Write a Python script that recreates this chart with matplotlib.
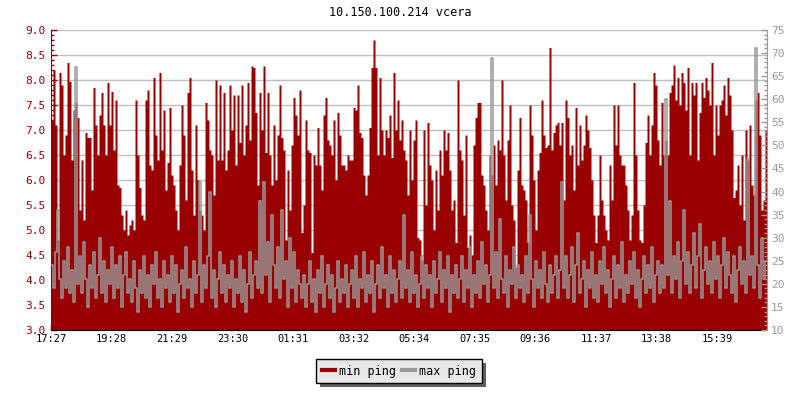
import numpy as np
import matplotlib
matplotlib.use("Agg")
import matplotlib.pyplot as plt
from matplotlib.ticker import MultipleLocator, FixedLocator, FormatStrFormatter
from matplotlib.lines import Line2D
from matplotlib.patches import Rectangle

title = "10.150.100.214 vcera"
time_labels = ["17:27", "19:28", "21:29", "23:30", "01:31", "03:32",
               "05:34", "07:35", "09:36", "11:37", "13:38", "15:39"]
label_step_min = 121.1   # minutes between time labels
bin_min = 4.0            # minutes per sample
series_names = ["min ping", "max ping"]

# left axis values (3.0 .. 9.0)
min_ping = [
    7.2, 8.2, 7.1, 4.8, 8.15, 7.9, 6.5, 6.9, 8.35, 7.97,
    6.4, 7.4, 7.55, 7.25, 5.4, 6.4, 5.2, 6.95, 6.85, 6.85,
    5.8, 7.85, 7.1, 6.5, 7.3, 7.75, 7.1, 6.5, 7.95, 7.1,
    7.77, 6.6, 7.6, 5.9, 5.85, 5.3, 5.0, 5.4, 4.9, 5.1,
    5.2, 5.0, 7.6, 6.5, 5.85, 5.3, 5.2, 7.6, 7.8, 6.3,
    6.2, 8.05, 6.9, 6.4, 8.15, 6.6, 7.4, 5.8, 6.35, 7.45,
    6.1, 5.9, 5.4, 5.0, 6.3, 7.5, 6.9, 5.6, 7.75, 8.05,
    6.2, 5.3, 7.1, 6.0, 5.4, 5.3, 5.0, 7.55, 7.2, 6.6,
    6.5, 5.7, 8.0, 6.4, 7.9, 6.4, 7.75, 6.2, 6.6, 7.9,
    7.0, 7.7, 6.3, 7.7, 6.75, 7.9, 6.5, 7.1, 7.95, 6.8,
    8.28, 8.25, 7.35, 5.9, 7.75, 7.0, 8.28, 6.55, 7.75, 6.5,
    5.9, 7.1, 6.0, 6.9, 7.9, 6.85, 6.6, 4.8, 6.2, 5.4,
    6.7, 7.65, 7.3, 6.9, 7.8, 4.95, 5.5, 7.2, 6.6, 6.55,
    4.55, 6.5, 6.3, 7.05, 6.3, 5.8, 7.3, 7.65, 6.8, 6.7,
    6.5, 7.2, 6.0, 7.35, 6.9, 6.3, 6.3, 6.2, 6.5, 6.4,
    6.4, 7.45, 7.4, 7.9, 6.95, 6.85, 6.1, 5.7, 6.1, 7.05,
    8.25, 8.8, 8.25, 6.5, 8.05, 7.0, 6.5, 7.0, 6.85, 7.3,
    6.45, 8.15, 7.0, 7.6, 6.8, 7.2, 6.6, 6.4, 5.7, 7.0,
    6.0, 6.8, 7.2, 4.85, 4.8, 4.4, 7.0, 5.5, 7.15, 6.3,
    6.0, 5.0, 6.2, 5.4, 6.6, 6.1, 7.0, 6.6, 6.95, 6.2,
    5.4, 5.6, 4.75, 8.0, 6.6, 6.4, 5.3, 6.9, 4.65, 4.9,
    4.5, 6.7, 7.25, 7.55, 7.55, 6.1, 5.9, 5.4, 5.0, 6.5,
    6.1, 6.7, 5.9, 6.8, 6.6, 8.0, 6.5, 5.6, 6.8, 7.5,
    5.5, 5.2, 4.25, 6.2, 7.25, 5.9, 5.8, 5.6, 4.75, 7.5,
    6.9, 6.0, 5.0, 6.2, 6.55, 7.6, 6.9, 6.65, 6.7, 8.65,
    6.6, 6.95, 7.1, 7.15, 6.7, 7.15, 5.6, 7.6, 7.25, 6.5,
    6.7, 5.8, 7.45, 6.3, 7.1, 6.4, 6.7, 7.3, 7.0, 6.65,
    6.0, 5.3, 4.75, 5.3, 6.5, 5.6, 5.3, 5.0, 4.8, 6.3,
    5.6, 7.5, 6.7, 7.5, 6.5, 6.3, 6.3, 5.9, 5.4, 4.8,
    5.3, 7.95, 6.5, 5.4, 4.8, 4.75, 5.5, 6.75, 7.3, 6.5,
    7.1, 8.15, 7.9, 6.8, 6.3, 7.55, 6.5, 6.8, 6.5, 7.75,
    7.9, 8.3, 7.6, 8.05, 7.5, 8.15, 7.95, 7.4, 8.25, 6.5,
    7.95, 7.7, 7.95, 6.4, 7.35, 7.95, 7.65, 8.05, 7.8, 7.5,
    8.35, 6.5, 7.5, 6.9, 7.5, 7.6, 7.9, 7.3, 8.05, 7.7,
    7.0, 5.65, 5.8, 6.3, 5.5, 6.5, 5.2, 7.0, 6.4, 7.1,
    5.9, 5.7, 7.6, 7.75, 6.9, 5.4, 5.6, 7.0,
]

# right axis values (10 .. 75)
max_ping = [
    24, 19, 27, 36, 21, 17, 25, 19, 28, 18, 23, 16, 67,
    20, 26, 18, 29, 21, 15, 24, 19, 27, 17, 22, 30, 18,
    25, 16, 23, 20, 28, 17, 24, 19, 26, 15, 22, 27, 18,
    21, 16, 25, 19, 14, 23, 18, 26, 17, 22, 15, 24, 20,
    27, 17, 21, 15, 25, 19, 22, 16, 26, 18, 24, 14, 20,
    23, 17, 28, 19, 21, 15, 25, 18, 22, 42, 16, 24, 19,
    26, 40, 17, 23, 15, 21, 27, 18, 24, 16, 22, 19, 25,
    15, 21, 18, 26, 16, 23, 14, 20, 27, 17, 22, 25, 19,
    38, 18, 42, 22, 29, 16, 35, 24, 19, 28, 17, 36, 21,
    25, 15, 30, 19, 27, 16, 23, 20,
    17, 22, 15, 20, 25, 16, 21, 14, 23, 18, 26, 15, 20,
    24, 17, 22, 14, 19, 25, 16, 21, 18, 24, 15, 20,
    23, 17, 26, 15, 21, 19, 27, 16, 22, 18, 25, 14, 20,
    24, 17, 28, 19, 22, 15, 26, 18, 23, 16, 21, 25, 17,
    35, 19, 23, 16, 27, 18, 22, 15, 20, 26, 17, 24, 19,
    22, 15, 25, 18, 21, 27, 16, 23, 19, 26, 14, 22, 18, 24, 17,
    21, 26, 16, 23, 19, 28, 15, 22, 18, 25, 17, 29, 20,
    24, 16, 22, 69, 19, 27, 17, 34, 21, 18, 26, 15, 23,
    20, 28, 17, 24, 19, 22, 16, 26, 18, 35, 21, 15, 25,
    19, 23, 17, 27, 20, 16, 24, 18, 22, 26, 17,
    23, 42, 19, 26, 17, 22, 28, 16, 24, 31, 18, 21, 25,
    15, 23, 19, 27, 17, 22, 16, 25, 20, 28, 18, 23, 15,
    21, 26, 17, 24, 19, 29, 16, 22, 18, 25, 20, 27, 17,
    23, 15, 21, 26, 18, 24, 19, 28, 16, 22, 25, 18,
    24, 19, 60, 22, 38, 18, 26, 21, 29, 17, 25, 36, 20,
    27, 18, 24, 31, 19, 26, 33, 17, 23, 28, 20, 25, 18,
    29, 21, 26, 17, 24, 30, 19, 27, 22, 18, 26, 16, 23,
    28, 20, 25, 18, 47, 22, 26, 19, 71, 24, 17, 30, 21, 25,
]

RED = "#990000"
GREY = "#999999"
MONO = "DejaVu Sans Mono"
plt.rcParams["font.family"] = MONO
FS = 7

fig = plt.figure(figsize=(8, 4), dpi=100)
ax = fig.add_axes([51 / 800, 70 / 400, 716 / 800, 300 / 400])

n = len(min_ping)
edges = np.arange(n + 1) * bin_min
red_ext = np.append(min_ping, min_ping[-1])
grey_ext = np.append(max_ping, max_ping[-1])

ax.fill_between(edges, red_ext, 3.0, step="post", color=RED, linewidth=0, zorder=2)
ax.set_xlim(0, n * bin_min)
ax.set_ylim(3.0, 9.0)
ax.set_axisbelow(True)
ax.yaxis.set_major_locator(MultipleLocator(0.5))
ax.yaxis.set_minor_locator(MultipleLocator(0.1))
ax.yaxis.set_major_formatter(FormatStrFormatter("%.1f"))
ax.grid(axis="y", which="major", color="#c0c0c0", linewidth=1.0)
ax.tick_params(axis="y", which="major", direction="in", length=4, width=1,
               color=RED, labelcolor=RED, labelsize=FS + 1, pad=4)
ax.tick_params(axis="y", which="minor", direction="in", length=2.2, width=1, color=RED)
ax.xaxis.set_major_locator(FixedLocator([i * label_step_min for i in range(len(time_labels))]))
ax.set_xticklabels(time_labels)
ax.tick_params(axis="x", which="major", direction="in", length=3.6, width=1,
               color="black", labelsize=FS + 0.5, pad=3)
ax.spines["left"].set_color(RED)
ax.spines["bottom"].set_color("black")
ax.spines["top"].set_visible(False)
ax.spines["right"].set_visible(False)

ax2 = ax.twinx()
ax2.step(edges, grey_ext, where="post", color=GREY, linewidth=1.1, zorder=3)
ax2.set_ylim(10, 75)
ax2.set_xlim(0, n * bin_min)
ax2.yaxis.set_major_locator(MultipleLocator(5))
ax2.yaxis.set_minor_locator(MultipleLocator(1))
ax2.tick_params(axis="y", which="major", direction="in", length=4, width=1,
                color=GREY, labelcolor=GREY, labelsize=FS + 1, pad=3)
ax2.tick_params(axis="y", which="minor", direction="in", length=2.2, width=1, color=GREY)
for s in ["left", "top", "bottom"]:
    ax2.spines[s].set_visible(False)
ax2.spines["right"].set_color(GREY)

fig.text(0.5, 1 - 13 / 400, title, ha="center", va="center", fontsize=8.5, color="black")

handles = [Line2D([0], [0], color=RED, lw=3), Line2D([0], [0], color=GREY, lw=3)]
leg = fig.legend(handles, series_names, loc="center", bbox_to_anchor=(399 / 800, 1 - 371 / 400),
                 ncol=2, frameon=True, fancybox=False, fontsize=FS + 1.5,
                 handlelength=1.1, handletextpad=0.35, columnspacing=0.5,
                 borderpad=0.5, borderaxespad=0)
leg.get_frame().set_facecolor("#e8e8e8")
leg.get_frame().set_edgecolor("black")
leg.get_frame().set_linewidth(1.0)
leg.get_frame().set_alpha(1.0)
leg.set_zorder(5)

fig.canvas.draw()
bb = leg.get_window_extent()
off = 4
shadow = Rectangle(((bb.x0 + off) / 800, (bb.y0 - off) / 400), bb.width / 800, bb.height / 400,
                   transform=fig.transFigure, facecolor="#606060", edgecolor="none", zorder=4)
fig.patches.append(shadow)

fig.savefig("out.png", dpi=100)
